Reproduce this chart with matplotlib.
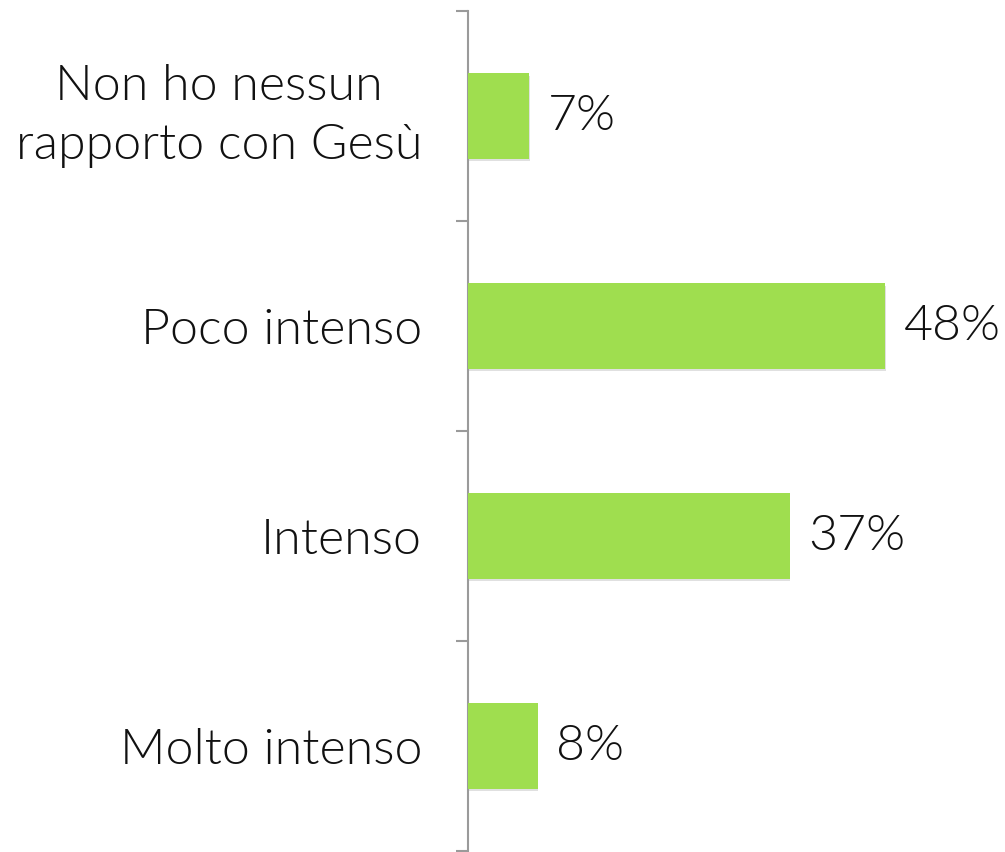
import matplotlib
matplotlib.use("Agg")
import matplotlib.pyplot as plt
import matplotlib.patheffects as pe

categories = ["Non ho nessun\nrapporto con Gesù", "Poco intenso", "Intenso", "Molto intenso"]
values = [7, 48, 37, 8]
value_labels = ["7%", "48%", "37%", "8%"]

fig = plt.figure(figsize=(10.05, 8.52), dpi=100)
ax = fig.add_axes([468/1005, 1/852, 1 - 468/1005, 840/852])

pos = list(range(len(categories)))
bars = ax.barh(pos, values, height=0.405, color="#9fde4f", zorder=3)
for b in bars:
    b.set_path_effects([pe.SimplePatchShadow(offset=(0.5, -2), shadow_rgbFace="#999999", alpha=0.3), pe.Normal()])

ax.set_ylim(len(categories) - 0.5, -0.5)
ax.set_xlim(0, (1005 - 468) / 8.69)

for p, v, lab in zip(pos, values, value_labels):
    ax.annotate(lab, (v, p), xytext=(13.5, 0), textcoords="offset points",
                va="center", ha="left", fontsize=36, family="Lato",
                fontweight=300, color="#111111")

ax.set_yticks([p + 0.5 for p in [-1] + pos], minor=False)
ax.set_yticklabels([])
ax.set_yticks(pos, minor=True)
ax.set_yticklabels(categories, minor=True, fontsize=36, family="Lato",
                   fontweight=300, color="#111111", ha="right",
                   multialignment="center", linespacing=1.37)
ax.tick_params(axis="y", which="major", length=9, width=1.5, color="#9a9a9a", direction="out")
ax.tick_params(axis="y", which="minor", length=0, pad=33)
ax.set_xticks([])
for t in ax.get_yticklabels(minor=True):
    if "\n" in t.get_text():
        t.set_va("center")

for s in ["top", "right", "bottom"]:
    ax.spines[s].set_visible(False)
ax.spines["left"].set_color("#9a9a9a")
ax.spines["left"].set_linewidth(1.5)

fig.savefig("out.png", dpi=100)
